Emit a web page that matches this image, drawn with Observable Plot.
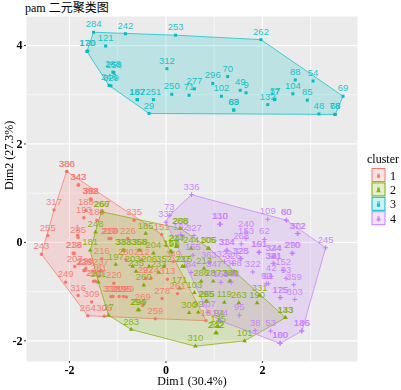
<!DOCTYPE html>
<html><head><meta charset="utf-8">
<script src="https://cdn.jsdelivr.net/npm/d3@7"></script>
<script src="https://cdn.jsdelivr.net/npm/@observablehq/plot@0.6"></script>
<style>
html,body{margin:0;padding:0;background:#fff;width:401px;height:390px;overflow:hidden;position:relative}
#title{height:16px;line-height:16px;padding-left:25px;font:12px/16px "Liberation Serif","Noto Sans CJK SC",serif;color:#000;white-space:nowrap}
#chart svg{display:block;filter:blur(0.3px)}
#legend{position:absolute;left:360px;top:150px;width:41px;filter:blur(0.3px)}
</style></head><body>
<div id="title">pam 二元聚类图</div>
<div id="chart"></div>
<div id="legend"></div>
<script>
const clusters = ["1","2","3","4"];
const clusterColors = ["#F8766D","#7CAE00","#00BFC4","#C77CFF"];
const clusterSymbols = ["circle","triangle","square","plus"];

const ids1 = [380,386,342,343,392,398,362,317,188,193,189,335,255,285,1,243,218,238,151,349,18,316,309,264,305,259,278,269,220,289,332,338,219,195,313,261,249,298,281,237,228,229,216,280,212,217,210,239,226,292,274,207,291,293];
const dim1a = [-2.06,-2.05,-1.82,-1.81,-1.57,-1.56,-1.55,-2.32,-1.66,-1.70,-1.43,-0.66,-2.45,-1.82,-1.83,-2.58,-1.92,-1.90,-0.09,0.15,0.83,-1.82,-1.54,-1.62,-1.28,-0.22,-0.08,-0.48,-1.08,-0.82,-1.14,-1.10,-0.97,-0.88,0.03,0.24,-2.08,-1.66,-1.39,-1.35,-1.70,-1.68,-1.33,-0.83,-0.50,-1.18,-1.16,-1.14,-0.79,-0.42,-0.31,-1.89,-1.50,-1.46];
const dim2a = [1.44,1.44,1.16,1.17,0.88,0.88,0.88,0.66,0.65,0.50,0.45,0.45,0.14,0.10,0.14,-0.24,-0.22,-0.22,0.16,-0.39,-1.59,-1.08,-1.21,-1.49,-1.50,-1.55,-1.14,-1.28,-0.83,-1.11,-1.10,-1.10,-1.10,-1.10,-0.75,-1.04,-0.81,-0.53,-0.69,-0.57,-0.57,-0.57,-0.33,-0.35,-0.35,0.08,0.08,0.08,0.08,-0.73,-0.73,-0.49,-0.79,-0.79];

const ids2 = [266,267,248,181,201,17,283,310,101,133,143,185,288,208,204,197,333,388,358,368,206,203,260,294,299,235,171,103,300,99,295,265,119,263,190,331,287,286,360,340,94,135,242,222,214,247,244,306,105,215,213,157,352,233,227,198];
const dim1b = [-1.34,-1.32,-1.46,-1.57,-1.40,-1.19,-0.72,0.61,1.63,2.47,2.48,-0.42,0.29,0.31,-0.26,-1.04,-0.89,-0.87,-0.56,-0.54,-0.35,-0.69,-0.46,-0.58,-0.56,-0.62,0.28,0.59,0.48,0.67,0.83,0.85,1.21,1.51,1.89,1.94,0.98,0.73,1.32,1.34,1.10,1.08,1.03,1.05,0.21,0.23,0.52,0.89,0.87,0.38,0.79,0.10,-0.04,-0.15,0.34,0.12];
const dim2b = [0.62,0.62,0.21,-0.16,-0.81,-1.48,-1.77,-2.11,-2.00,-1.53,-1.53,0.18,0.28,0.28,-0.22,-0.45,-0.16,-0.16,-0.16,-0.16,-0.49,-0.49,-0.87,-1.37,-1.37,-0.59,-0.93,-1.02,-1.43,-1.42,-1.20,-1.20,-1.22,-1.23,-1.23,-1.08,-0.79,-0.79,-0.79,-0.79,-1.59,-1.71,-1.84,-1.84,-0.08,-0.08,-0.12,-0.12,-0.12,-0.49,-0.53,-0.18,-0.49,-0.61,-0.49,-0.20];

const ids3 = [284,242,253,121,170,120,288,258,246,329,312,250,71,277,182,187,251,29,262,296,70,102,49,9,69,88,54,104,85,17,37,132,63,89,48,78,68];
const dim1c = [-1.50,-0.84,0.20,-1.25,-1.64,-1.62,-1.10,-1.08,-1.18,-1.14,0.02,0.12,0.48,0.59,-0.60,-0.59,-0.26,-0.35,1.97,0.97,1.28,1.15,1.54,1.66,3.67,2.68,3.05,2.63,2.93,2.25,2.26,2.11,1.40,1.41,3.17,3.50,3.51];
const dim2c = [4.27,4.24,4.21,3.99,3.88,3.89,3.46,3.45,3.19,3.18,3.53,3.01,2.99,3.12,2.90,2.90,2.90,2.62,4.12,3.23,3.37,2.97,3.09,3.04,2.97,3.30,3.28,3.02,2.89,2.90,2.91,2.80,2.69,2.69,2.61,2.60,2.60];

const ids4 = [336,73,337,109,60,80,302,372,245,186,146,180,100,38,53,194,107,95,303,359,175,125,130,110,240,268,153,62,161,191,270,290,324,344,321,341,322,152,92,91,42,93,314,334,325,328,323,326,308,166,348,327,155,192,363,84,347];
const dim1d = [0.53,0.07,0.00,2.11,2.49,2.50,2.74,2.72,3.31,2.81,2.82,2.36,2.37,1.85,2.17,1.12,0.87,1.52,2.67,2.65,2.36,2.38,1.11,1.13,1.66,1.56,1.66,2.04,1.92,1.94,2.61,2.63,2.22,2.24,2.22,2.24,1.80,2.43,2.08,2.12,2.18,2.49,1.25,1.27,1.56,1.54,1.21,1.39,1.41,1.14,1.35,0.58,0.56,0.31,0.89,0.52,1.00];
const dim2d = [0.97,0.55,0.41,0.47,0.45,0.45,0.18,0.18,-0.11,-1.80,-1.80,-2.05,-2.05,-1.79,-1.80,-1.59,-1.42,-1.48,-1.16,-0.86,-1.12,-1.12,0.37,0.37,0.21,-0.03,0.08,0.06,-0.20,-0.20,-0.22,-0.22,-0.28,-0.28,-0.43,-0.43,-0.60,-0.57,-0.84,-0.84,-0.69,-0.73,-0.16,-0.16,-0.33,-0.33,-0.39,-0.43,-0.59,-0.81,-0.81,0.14,-0.26,0.16,-0.41,-0.61,-0.60];

const xTicks = [-2,0,2], yTicks = [-2,0,2,4];
const xMinor = [-1,1,3], yMinor = [-1,1,3];
const xLabel = "Dim1 (30.4%)", yLabel = "Dim2 (27.3%)";

const table = (c, ids, xs, ys) => ids.map((id,i)=>({id:String(id),dim1:xs[i],dim2:ys[i],cluster:c}));
const points = [
  ...table("1",ids1,dim1a,dim2a),
  ...table("2",ids2,dim1b,dim2b),
  ...table("3",ids3,dim1c,dim2c),
  ...table("4",ids4,dim1d,dim2d)
];
const serif = '"Liberation Serif",serif';

const chart = Plot.plot({
  width:401, height:374,
  marginTop:0, marginBottom:29, marginLeft:26, marginRight:44,
  x:{domain:[-2.89,3.97]},
  y:{domain:[-2.42,4.59]},
  color:{domain:clusters, range:clusterColors},
  style:{background:"transparent"},
  marks:[
    Plot.frame({fill:"#ebebeb",stroke:null}),
    Plot.gridX(xMinor,{stroke:"#fff",strokeOpacity:1,strokeWidth:0.6}),
    Plot.gridY(yMinor,{stroke:"#fff",strokeOpacity:1,strokeWidth:0.6}),
    Plot.gridX(xTicks,{stroke:"#fff",strokeOpacity:1,strokeWidth:1.2}),
    Plot.gridY(yTicks,{stroke:"#fff",strokeOpacity:1,strokeWidth:1.2}),
    Plot.hull(points,{x:"dim1",y:"dim2",fill:"cluster",stroke:"cluster",z:"cluster",fillOpacity:0.2,strokeOpacity:0.7,strokeWidth:1}),
    ...clusters.map((c,i)=>Plot.dot(points.filter(d=>d.cluster===c),{x:"dim1",y:"dim2",fill:clusterSymbols[i]==="plus"?undefined:clusterColors[i],stroke:clusterSymbols[i]==="plus"?clusterColors[i]:undefined,symbol:clusterSymbols[i],r:1.7,strokeWidth:1})),
    Plot.text(points,{x:"dim1",y:"dim2",text:"id",fill:"cluster",fillOpacity:0.9,dy:-8,fontSize:9.5,fontFamily:'"Liberation Sans",sans-serif'}),
    Plot.axisX({ticks:xTicks,tickSize:2,tickPadding:2,tickFormat:d=>String(d),label:null,fontSize:12,fontWeight:"bold",fontFamily:serif,stroke:"#333"}),
    Plot.axisY({ticks:yTicks,tickSize:2,tickPadding:2,tickFormat:d=>String(d),label:null,fontSize:12,fontWeight:"bold",fontFamily:serif,stroke:"#333"}),
    Plot.text([xLabel],{frameAnchor:"bottom",dy:23,fontSize:12,fontFamily:serif,fill:"#000"}),
    Plot.text([yLabel],{frameAnchor:"left",dx:-17,dy:1,rotate:-90,fontSize:12,fontFamily:serif,fill:"#000"})
  ]
});
document.getElementById("chart").append(chart);

// Legend keys
const lg = d3.select("#legend").append("svg").attr("width",41).attr("height",80).style("display","block");
lg.append("text").attr("x",7).attr("y",13).attr("font-family",serif).attr("font-size",12).text("cluster");
clusters.forEach((c,i)=>{
  const g = lg.append("g").attr("transform",`translate(12,${18.5+i*14.4})`);
  g.append("rect").attr("width",13).attr("height",13).attr("fill",clusterColors[i]).attr("fill-opacity",0.2).attr("stroke",clusterColors[i]).attr("stroke-width",1);
  g.append("path").attr("transform","translate(6.5,8)")
    .attr("d",d3.symbol(clusterSymbols[i]==="plus"?d3.symbolCross:[d3.symbolCircle,d3.symbolTriangle,d3.symbolSquare][i],10)())
    .attr("fill",clusterColors[i]).attr("fill-opacity",0.9);
  g.append("text").attr("x",6.5).attr("y",7).attr("text-anchor","middle").attr("font-family",'"Liberation Sans",sans-serif').attr("font-size",6).attr("fill",clusterColors[i]).text("a");
  lg.append("text").attr("x",30).attr("y",18.5+i*14.4+11).attr("font-family",serif).attr("font-size",12).text(c);
});
</script>
</body></html>
